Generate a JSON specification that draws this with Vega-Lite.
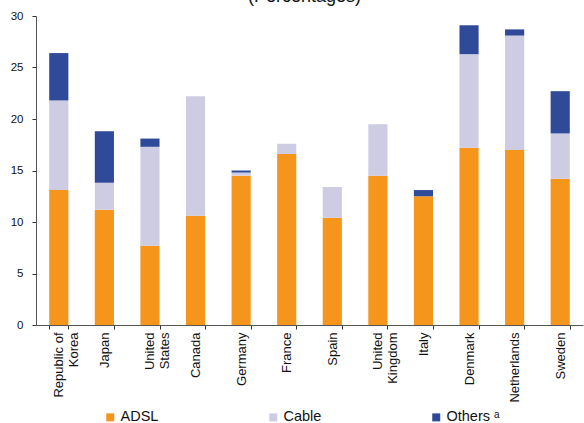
{
  "$schema": "https://vega.github.io/schema/vega-lite/v6.json",
  "autosize": "none",
  "width": 547,
  "height": 309,
  "padding": {"left": 36, "top": 16, "right": 1, "bottom": 98},
  "background": "white",
  "title": {
    "text": "(Percentages)",
    "font": "Liberation Sans",
    "fontSize": 18,
    "fontWeight": "normal",
    "color": "#111111",
    "anchor": "middle",
    "baseline": "bottom",
    "offset": 0,
    "dx": -5,
    "dy": 14
  },
  "data": {
    "values": [
      {"country": "Republic of Korea", "type": "ADSL", "share": 13.1},
      {"country": "Republic of Korea", "type": "Cable", "share": 8.7},
      {"country": "Republic of Korea", "type": "Others", "share": 4.6},
      {"country": "Japan", "type": "ADSL", "share": 11.2},
      {"country": "Japan", "type": "Cable", "share": 2.6},
      {"country": "Japan", "type": "Others", "share": 5.0},
      {"country": "United States", "type": "ADSL", "share": 7.7},
      {"country": "United States", "type": "Cable", "share": 9.6},
      {"country": "United States", "type": "Others", "share": 0.8},
      {"country": "Canada", "type": "ADSL", "share": 10.6},
      {"country": "Canada", "type": "Cable", "share": 11.6},
      {"country": "Canada", "type": "Others", "share": 0},
      {"country": "Germany", "type": "ADSL", "share": 14.5},
      {"country": "Germany", "type": "Cable", "share": 0.3},
      {"country": "Germany", "type": "Others", "share": 0.2},
      {"country": "France", "type": "ADSL", "share": 16.6},
      {"country": "France", "type": "Cable", "share": 1.0},
      {"country": "France", "type": "Others", "share": 0},
      {"country": "Spain", "type": "ADSL", "share": 10.4},
      {"country": "Spain", "type": "Cable", "share": 3.0},
      {"country": "Spain", "type": "Others", "share": 0},
      {"country": "United Kingdom", "type": "ADSL", "share": 14.5},
      {"country": "United Kingdom", "type": "Cable", "share": 5.0},
      {"country": "United Kingdom", "type": "Others", "share": 0},
      {"country": "Italy", "type": "ADSL", "share": 12.5},
      {"country": "Italy", "type": "Cable", "share": 0},
      {"country": "Italy", "type": "Others", "share": 0.6},
      {"country": "Denmark", "type": "ADSL", "share": 17.2},
      {"country": "Denmark", "type": "Cable", "share": 9.1},
      {"country": "Denmark", "type": "Others", "share": 2.8},
      {"country": "Netherlands", "type": "ADSL", "share": 17.0},
      {"country": "Netherlands", "type": "Cable", "share": 11.1},
      {"country": "Netherlands", "type": "Others", "share": 0.6},
      {"country": "Sweden", "type": "ADSL", "share": 14.2},
      {"country": "Sweden", "type": "Cable", "share": 4.4},
      {"country": "Sweden", "type": "Others", "share": 4.1}
    ]
  },
  "mark": {"type": "bar", "stroke": null},
  "encoding": {
    "x": {
      "field": "country",
      "type": "nominal",
      "sort": null,
      "scale": {"paddingInner": 0.58, "paddingOuter": 0.29},
      "axis": {
        "title": null,
        "tickBand": "extent",
        "tickSize": 4,
        "tickColor": "#333333",
        "domainColor": "#555555",
        "labelAngle": 270,
        "labelAlign": "right",
        "labelBaseline": "middle",
        "labelPadding": 3,
        "labelFont": "Liberation Sans",
        "labelFontSize": 13,
        "labelLineHeight": 15,
        "labelColor": "#111111",
        "labelExpr": "indexof(datum.label, ' ') > 0 ? [slice(datum.label, 0, lastindexof(datum.label, ' ')), slice(datum.label, lastindexof(datum.label, ' ') + 1)] : datum.label"
      }
    },
    "y": {
      "field": "share",
      "type": "quantitative",
      "stack": "zero",
      "scale": {"domain": [0, 30], "nice": false},
      "axis": {
        "title": null,
        "values": [0, 5, 10, 15, 20, 25, 30],
        "grid": false,
        "tickSize": 4,
        "tickColor": "#333333",
        "domainColor": "#555555",
        "labelPadding": 9,
        "labelFont": "Liberation Sans",
        "labelFontSize": 11.5,
        "labelColor": "#111111"
      }
    },
    "order": {"field": "type", "sort": "ascending"},
    "color": {
      "field": "type",
      "type": "nominal",
      "scale": {
        "domain": ["ADSL", "Cable", "Others"],
        "range": ["#F5951C", "#CDCCE3", "#2E4A98"]
      },
      "legend": {
        "title": null,
        "orient": "none",
        "direction": "horizontal",
        "legendX": 67,
        "legendY": 394,
        "padding": 0,
        "columns": 3,
        "gridAlign": "all",
        "columnPadding": 92,
        "symbolType": "square",
        "symbolSize": 64,
        "symbolStrokeWidth": 0,
        "symbolOffset": 0,
        "labelOffset": 3,
        "labelFont": "Liberation Sans",
        "labelFontSize": 14.5,
        "labelColor": "#111111",
        "labelExpr": "datum.label == 'Others' ? 'Others ᵃ' : datum.label"
      }
    }
  },
  "config": {
    "view": {"stroke": null},
    "axis": {"domainWidth": 1, "tickWidth": 1}
  }
}
